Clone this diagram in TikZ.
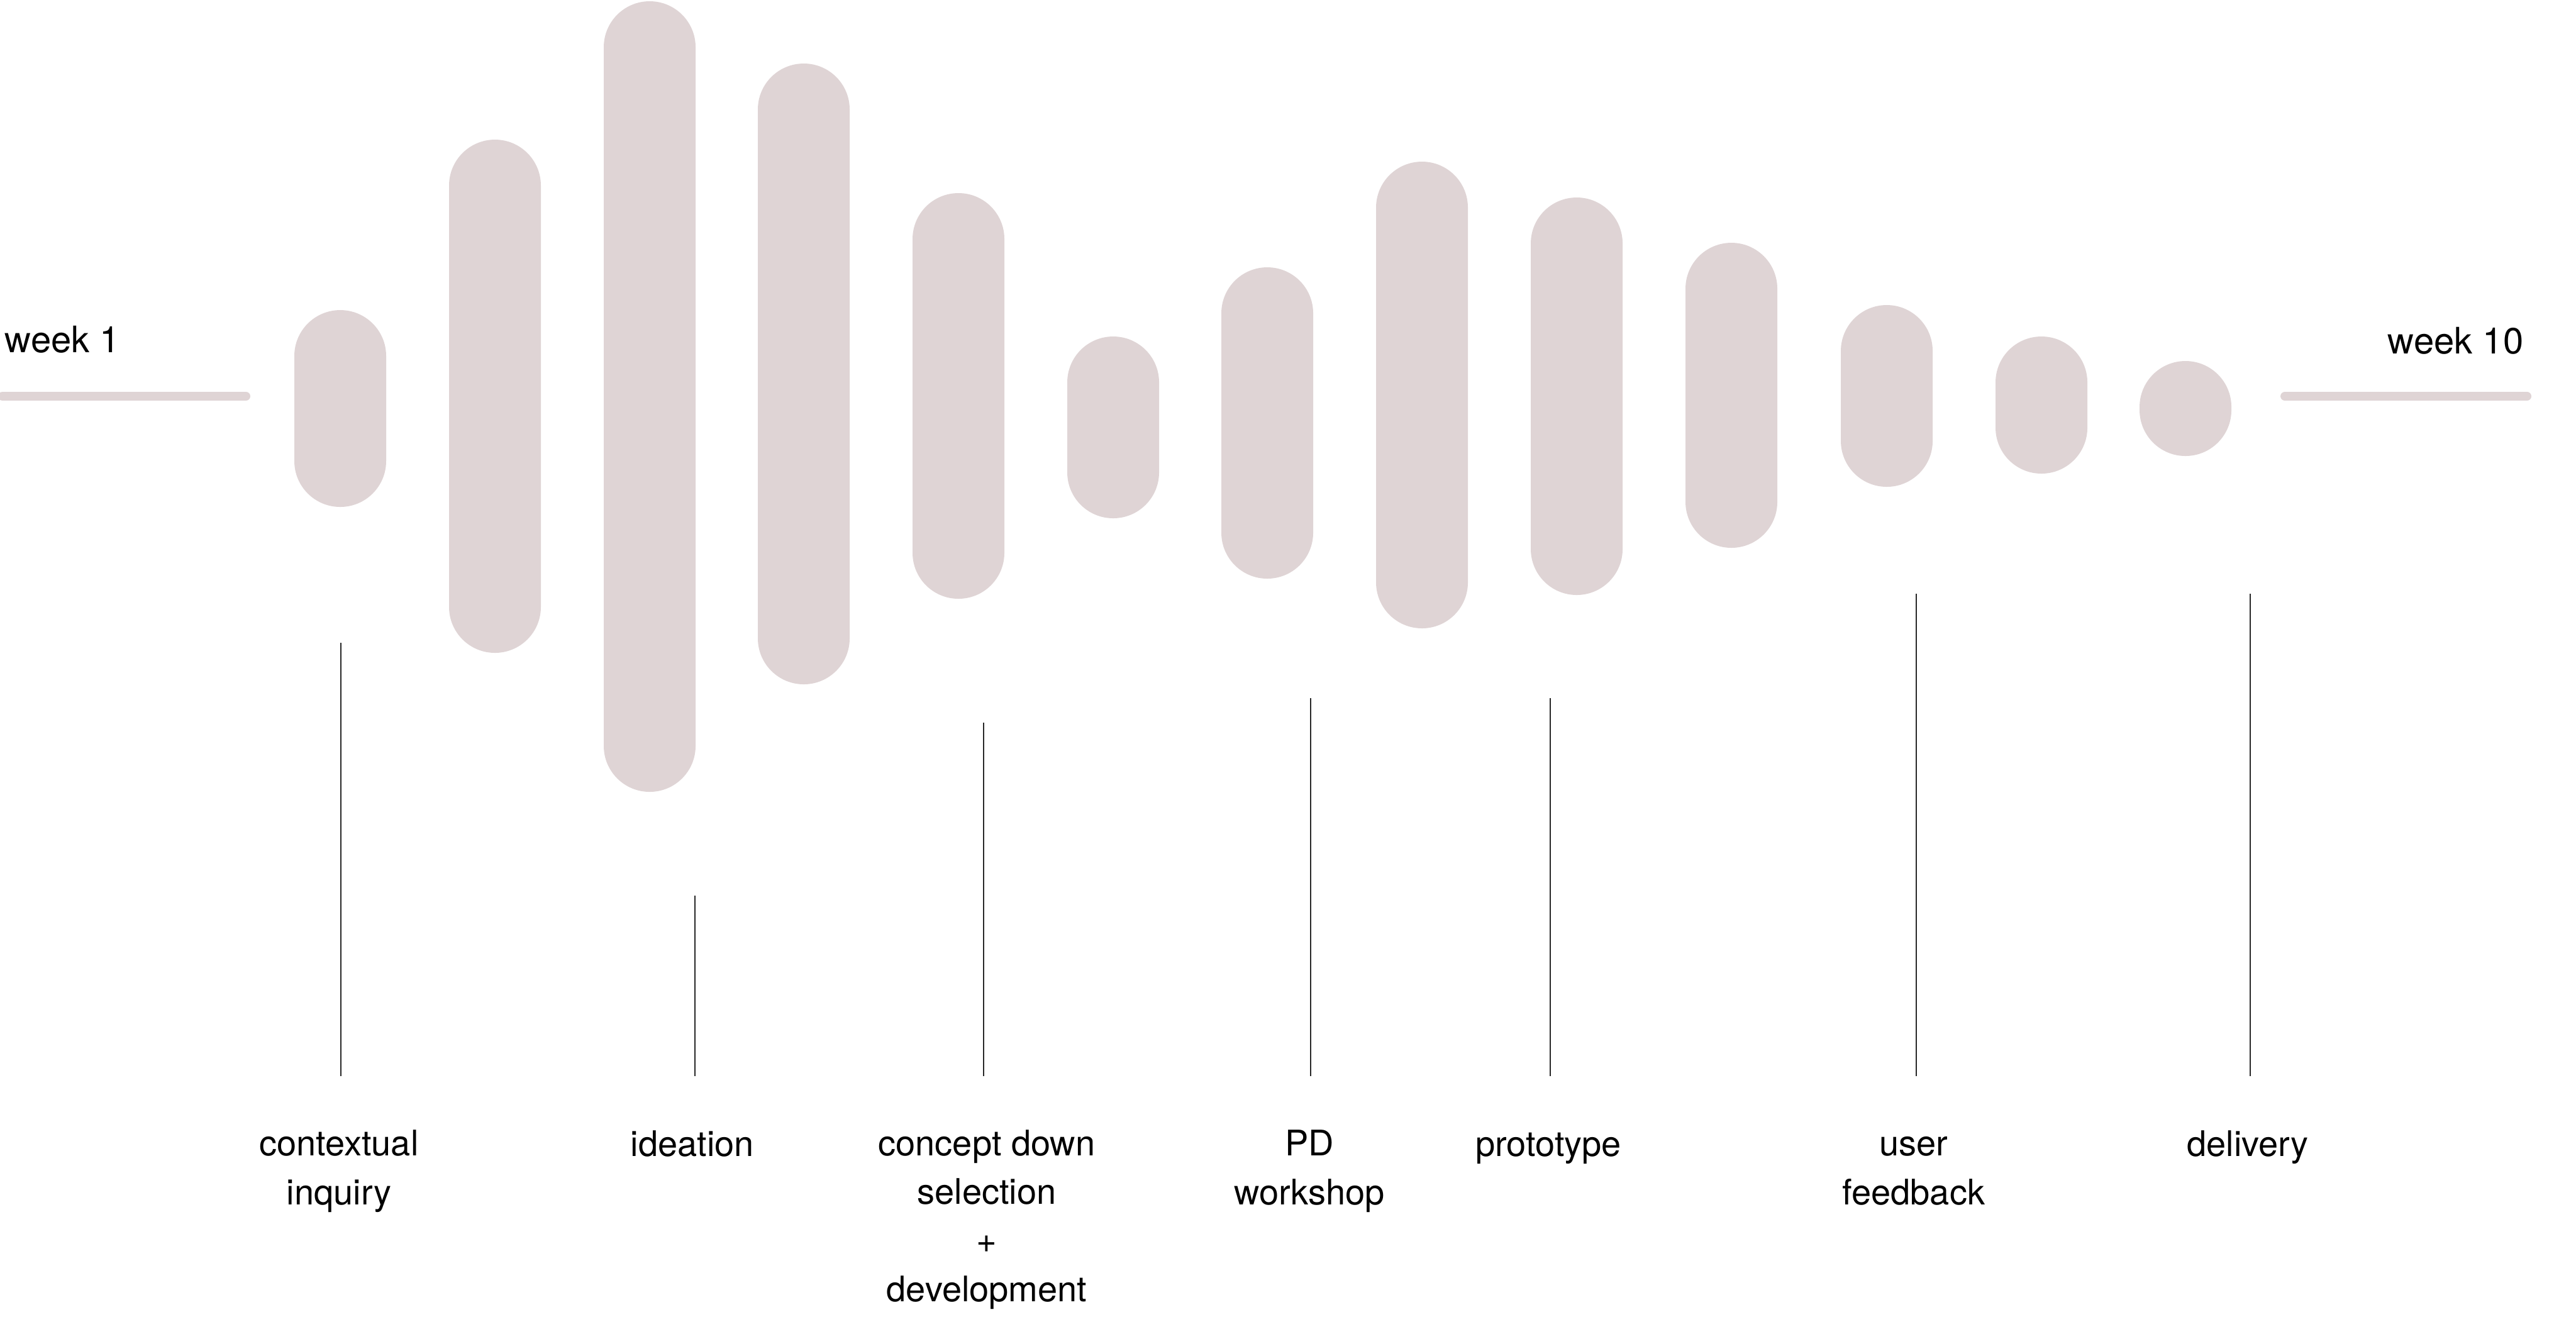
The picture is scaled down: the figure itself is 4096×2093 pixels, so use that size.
\documentclass[tikz,border=0pt]{standalone}
\usepackage{fontspec}
\setmainfont{TeX Gyre Heros}
\definecolor{barpink}{RGB}{223,212,213}
\definecolor{tickgrey}{RGB}{40,40,40}
\begin{document}
\begin{tikzpicture}[x=0.25pt,y=-0.25pt,
  bar/.style={fill=barpink,rounded corners=18.25pt},
  weekline/.style={draw=barpink,line width=3.5pt,line cap=round},
  tick/.style={draw=tickgrey,line width=0.7pt},
  lbl/.style={anchor=base,inner sep=0pt,font=\fontsize{14}{19.3}\selectfont,align=center},
  wk/.style={inner sep=0pt,font=\fontsize{14.5}{17}\selectfont}]
\useasboundingbox (0,0) rectangle (4096,2093);
% bars
\foreach \cx/\t/\b in {541/493/806, 787/222/1038, 1033/2/1259, 1278/101/1088,
  1524/307/952, 1770/535/824, 2015/425/920, 2261/257/999, 2507/314/946,
  2753/386/871, 3000/485/774, 3246/535/753, 3475/574/725}
  \fill[bar] (\cx-73,\t) rectangle (\cx+73,\b);
% week lines
\coordinate (wl1) at (4,630);
\coordinate (wl2) at (391,630);
\coordinate (wr1) at (3633,630);
\coordinate (wr2) at (4018,630);
\draw[weekline] (wl1) -- (wl2);
\draw[weekline] (wr1) -- (wr2);
\node[wk,anchor=base west] (w1) at (7,560) {week 1};
\node[wk,anchor=base east] (w10) at (4013,562) {week 10};
% labels (base anchor = baseline of the last line)
\node[lbl] (ci) at (539,1915) {contextual\\inquiry};
\node[lbl] (id) at (1101,1838) {ideation};
\node[lbl] (cd) at (1569,2069) {concept down\\selection\\+\\development};
\node[lbl] (pd) at (2082,1915) {PD\\workshop};
\node[lbl] (pr) at (2462,1838) {prototype};
\node[lbl] (uf) at (3043,1915) {user\\feedback};
\node[lbl] (de) at (3574,1838) {delivery};
% ticks
\foreach \n/\x/\t in {a/542/1022, b/1105/1424, c/1564/1149, d/2084/1110,
  e/2465/1110, f/3047/944, g/3578/944}{
  \coordinate (t\n) at (\x,\t);
  \coordinate (b\n) at (\x,1711);
  \draw[tick] (t\n) -- (b\n);
}
\end{tikzpicture}
\end{document}
